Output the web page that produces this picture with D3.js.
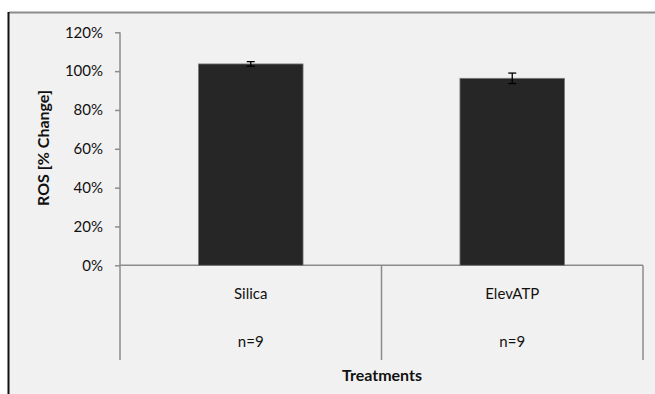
<!DOCTYPE html>
<html><head><meta charset="utf-8">
<script src="https://cdn.jsdelivr.net/npm/d3@7"></script>
<style>html,body{margin:0;padding:0;background:#fff;}svg{display:block;}</style>
</head><body>
<svg id="c" width="655" height="394"></svg>
<script>
const categories = ["Silica", "ElevATP"];
const nLabels = ["n=9", "n=9"];
const values = [103.7, 96.3];
const errors = [1.2, 2.7];
const yTicks = [0, 20, 40, 60, 80, 100, 120];

(function () {
const svg = d3.select("#c");
const font = "Lato, 'Open Sans', sans-serif";
// frame
svg.append("rect").attr("x", 9).attr("y", 12).attr("width", 660).attr("height", 400).attr("fill", "#f1f1f1");
svg.append("line").attr("x1", 9).attr("x2", 660).attr("y1", 12.5).attr("y2", 12.5).attr("stroke", "#8c8c8c").attr("stroke-width", 2);
svg.append("line").attr("x1", 8.5).attr("x2", 8.5).attr("y1", 12).attr("y2", 400).attr("stroke", "#111").attr("stroke-width", 2);

const pLeft = 120, pRight = 643, pTop = 32.3, zeroY = 265.3, bottomExt = 360;
const y = d3.scaleLinear().domain([0, 120]).range([zeroY, pTop]);
const x = d3.scaleBand().domain(categories).range([pLeft, pRight]).paddingInner(0).paddingOuter(0);
const barW = x.bandwidth() * 0.4;

// y axis
const yAxis = d3.axisLeft(y).tickValues(yTicks).tickFormat(d => d + "%").tickSize(5).tickPadding(12);
const ga = svg.append("g").attr("transform", `translate(${pLeft},0)`).call(yAxis);
ga.select(".domain").remove();
ga.selectAll(".tick line").attr("stroke", "#8c8c8c").attr("stroke-width", 1.5);
ga.selectAll(".tick text").attr("font-family", font).attr("font-size", 15).attr("fill", "#111");
svg.append("line").attr("x1", pLeft).attr("x2", pLeft).attr("y1", pTop).attr("y2", bottomExt).attr("stroke", "#8c8c8c").attr("stroke-width", 1.5);

// x axis line and dividers
svg.append("line").attr("x1", pLeft).attr("x2", pRight).attr("y1", zeroY).attr("y2", zeroY).attr("stroke", "#8c8c8c").attr("stroke-width", 1.5);
categories.forEach(c => {
  const xe = x(c) + x.bandwidth();
  svg.append("line").attr("x1", xe).attr("x2", xe).attr("y1", zeroY).attr("y2", bottomExt).attr("stroke", "#8c8c8c").attr("stroke-width", 1.5);
});

// bars
svg.selectAll("rect.bar").data(categories).enter().append("rect").attr("class", "bar")
  .attr("x", c => x(c) + x.bandwidth() / 2 - barW / 2)
  .attr("width", barW)
  .attr("y", (c, i) => y(values[i]))
  .attr("height", (c, i) => zeroY - y(values[i]))
  .attr("fill", "#262626").attr("stroke", "#7a7a7a").attr("stroke-width", 0.8);

// error bars
categories.forEach((c, i) => {
  const cx = x(c) + x.bandwidth() / 2;
  const g = svg.append("g").attr("stroke", "#000").attr("stroke-width", 1.3);
  g.append("line").attr("x1", cx).attr("x2", cx).attr("y1", y(values[i] + errors[i])).attr("y2", y(values[i] - errors[i]));
  g.append("line").attr("x1", cx - 4).attr("x2", cx + 4).attr("y1", y(values[i] + errors[i])).attr("y2", y(values[i] + errors[i]));
  g.append("line").attr("x1", cx - 4).attr("x2", cx + 4).attr("y1", y(values[i] - errors[i])).attr("y2", y(values[i] - errors[i]));
});

// category labels
categories.forEach((c, i) => {
  const cx = x(c) + x.bandwidth() / 2;
  svg.append("text").attr("x", cx).attr("y", 294).attr("dy", "0.35em").attr("text-anchor", "middle")
    .attr("font-family", font).attr("font-size", 15).attr("fill", "#111").text(c);
  svg.append("text").attr("x", cx).attr("y", 341.5).attr("dy", "0.35em").attr("text-anchor", "middle")
    .attr("font-family", font).attr("font-size", 15).attr("fill", "#111").text(nLabels[i]);
});

// axis titles
svg.append("text").attr("x", 382).attr("y", 375).attr("dy", "0.35em").attr("text-anchor", "middle")
  .attr("font-family", font).attr("font-size", 16).attr("font-weight", "bold").attr("fill", "#111").text("Treatments");
svg.append("text").attr("transform", "translate(43,148) rotate(-90)").attr("dy", "0.35em").attr("text-anchor", "middle")
  .attr("font-family", font).attr("font-size", 16).attr("font-weight", "bold").attr("fill", "#111").text("ROS [% Change]");
})();
</script>
</body></html>
